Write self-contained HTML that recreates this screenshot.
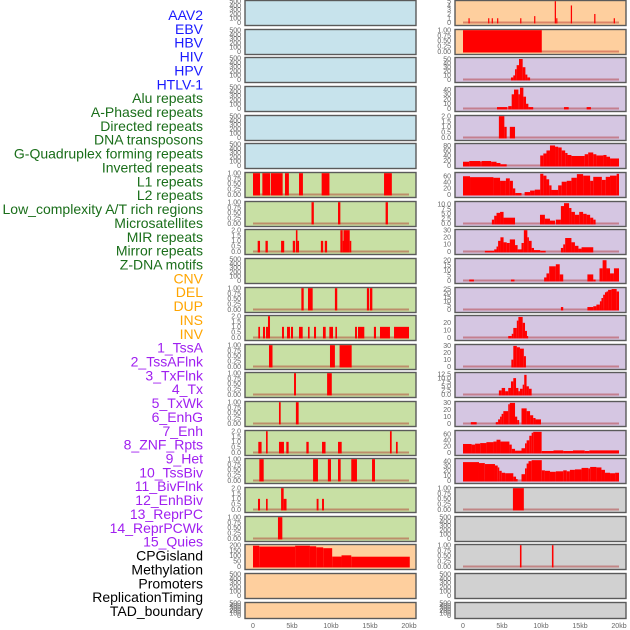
<!DOCTYPE html>
<html><head><meta charset="utf-8"><style>
html,body{margin:0;padding:0;background:#fff;}
svg{display:block;font-family:"Liberation Sans",sans-serif;}
</style></head><body>
<svg id="chart" width="630" height="630" viewBox="0 0 630 630"></svg>
<script>
const categories = ["AAV2","EBV","HBV","HIV","HPV","HTLV-1","Alu repeats","A-Phased repeats","Directed repeats","DNA transposons","G-Quadruplex forming repeats","Inverted repeats","L1 repeats","L2 repeats","Low_complexity A/T rich regions","Microsatellites","MIR repeats","Mirror repeats","Z-DNA motifs","CNV","DEL","DUP","INS","INV","1_TssA","2_TssAFlnk","3_TxFlnk","4_Tx","5_TxWk","6_EnhG","7_Enh","8_ZNF_Rpts","9_Het","10_TssBiv","11_BivFlnk","12_EnhBiv","13_ReprPC","14_ReprPCWk","15_Quies","CPGisland","Methylation","Promoters","ReplicationTiming","TAD_boundary"];
const categoryGroups = [6,13,5,15,5];
const xTickLabels = ["0","5kb","10kb","15kb","20kb"];
const xTickValues = [0,5,10,15,20];
const ticks500 = [0,100,200,300,400,500];
const ticks1 = [0,0.25,0.5,0.75,1];
const ticks2 = [0,0.5,1,1.5,2];

// segments: [startKb, endKb, value]
const segL7 = [[0,0.9,1],[1.2,2.2,1],[2.3,3.8,1],[4.1,4.6,1],[5.9,6.4,1],[8.8,9.8,1],[16.8,17.8,1]];
const segL8 = [[7.5,7.8,1],[10.9,11.2,1],[17.0,17.3,1]];
const segL9 = [[0.6,0.9,1],[1.6,1.9,1],[3.6,4.0,1],[5.1,5.4,1],[5.5,5.7,2],[5.7,5.9,1],[8.7,9.0,1],[9.2,9.5,1],[11.2,11.5,2],[11.5,11.6,1],[11.6,12.4,2],[12.4,12.6,1]];
const segL11 = [[6.2,6.5,1],[7.05,7.65,1],[10.5,10.8,1],[14.6,14.9,1],[15.0,15.3,1]];
const segL12 = [[0.68,0.9,1],[1.28,1.54,1],[1.67,1.92,1],[1.92,2.18,2],[3.72,3.97,1],[4.36,4.74,1],[4.87,5.13,1],[5.9,6.37,1],[7.05,7.26,1],[7.82,8.08,1],[8.97,9.32,1],[9.79,10.26,1],[10.56,10.77,1],[13.08,13.33,1],[13.46,14.27,1],[15.5,15.77,1],[16.28,17.56,1],[18.08,20,1]];
const segL13 = [[2.05,2.5,1],[9.87,10.5,1],[11.1,12.65,1]];
const segL14 = [[5.26,5.51,1],[9.5,10.1,1]];
const segL15 = [[3.33,3.55,1],[5.5,5.85,1]];
const segL16 = [[0.68,1.1,1],[1.67,1.88,2],[3.33,3.97,1],[4.27,4.57,1],[6.84,7.14,1],[8.85,9.3,1],[10.9,11.37,1],[17.56,17.78,2],[18.33,18.55,1]];
const segL17 = [[0.81,1.37,1],[7.7,8.33,1],[9.6,10,1],[10.9,11.24,1],[12.6,13.33,1],[15.26,15.64,1]];
const segL18 = [[0.64,0.9,1],[1.67,1.88,1],[3.6,3.93,2],[3.93,4.3,1],[8.16,8.4,1],[8.85,9.1,1]];
const segL19 = [[3.2,3.76,1]];
const segL20 = [[0,0.8,195],[0.8,5.4,187],[5.4,7.3,195],[7.3,8.1,190],[8.1,9.0,180],[9.0,10.15,172],[10.15,11.35,93],[11.35,12.6,105],[12.6,20.1,92]];

const segR1 = [[0.7,0.85,1],[3.22,3.37,1],[3.68,3.83,1],[4.37,4.52,1],[7.33,7.48,1],[9.12,9.27,1.5],[11.76,11.92,5],[11.95,12.1,1],[13.82,13.98,4],[16.82,16.98,2],[19.32,19.48,1]];
const segR2 = [[0,10.1,1]];
const segR3 = [[6.15,6.45,5],[6.45,6.67,10],[6.67,6.88,25],[6.88,7.18,35],[7.18,7.65,50],[7.65,8.0,30],[8.0,8.25,12],[8.25,8.6,5]];
const segR4 = [[4.36,5.68,3],[5.8,6.24,5],[6.24,6.54,30],[6.54,7.1,40],[7.1,7.3,30],[7.3,7.74,44],[7.74,8.08,25],[8.08,8.38,10],[8.38,9.0,3],[12.95,13.55,3],[15.85,16.4,3]];
const segR5 = [[4.6,5.3,2],[5.3,5.6,1],[6.0,6.67,1]];
const segR6 = [[0,0.8,15],[0.8,2.2,18],[2.2,2.4,16],[2.4,3.6,18],[3.6,4.3,15],[4.3,4.8,10],[4.8,5.6,5],[9.9,10.3,40],[10.3,10.7,48],[10.7,11.15,60],[11.15,11.8,80],[11.8,12.2,75],[12.2,12.65,72],[12.65,13.1,60],[13.1,13.4,50],[13.4,13.9,42],[13.9,15.6,38],[15.6,16.05,45],[16.05,16.7,52],[16.7,17.1,45],[17.1,18,40],[18,18.4,42],[18.4,18.85,35],[18.85,20,28]];
const segR7 = [[0,0.9,60],[0.9,3.9,57],[3.9,4.75,55],[4.75,5.5,45],[5.5,6.0,53],[6.0,6.4,45],[6.4,6.7,20],[6.7,7.5,5],[7.9,8.6,8],[8.6,9.2,13],[9.2,9.9,16],[9.9,10.3,68],[10.3,10.7,62],[10.7,11.05,50],[11.05,11.35,30],[11.35,12.2,15],[12.2,12.65,30],[12.65,13.3,42],[13.3,13.9,45],[13.9,14.6,55],[14.6,15.4,67],[15.4,16.3,62],[16.3,16.7,45],[16.7,17.8,58],[17.8,18.3,48],[18.3,18.85,58],[18.85,19.7,62],[19.7,20,68]];
const segR8 = [[3.7,4.0,2],[4.0,4.3,4],[4.3,4.75,5.5],[4.75,5.2,6],[5.2,6.67,3],[9.87,10.5,4.5],[10.5,11.15,2.5],[11.15,11.8,1.5],[11.9,12.55,2],[12.55,12.95,9],[12.95,13.6,10.5],[13.6,13.9,8],[13.9,14.35,6],[14.35,14.9,4.5],[14.9,15.4,6],[15.4,15.85,5],[15.85,16.3,4.5],[16.3,16.7,3],[16.7,17.0,2]];
const segR9 = [[2.8,4.0,1],[4.0,4.3,3],[4.3,4.5,7],[4.5,4.8,15],[4.8,5.2,20],[5.2,5.6,13],[5.6,6.0,12],[6.0,6.67,17],[6.67,7.0,9],[7.0,7.5,3],[7.5,7.8,12],[7.8,8.25,30],[8.25,8.45,20],[8.45,8.8,15],[8.8,9.1,5],[9.1,9.9,2],[9.9,10.6,1],[12.55,12.85,5],[12.85,13.1,10],[13.1,13.9,19],[13.9,14.35,13],[14.35,14.8,8],[14.8,15.2,4],[15.2,16.7,6]];
const segR10 = [[0.8,1.4,1],[6.15,6.6,1],[10.4,10.7,3],[10.7,11.05,7],[11.05,11.9,14],[11.9,12.4,16],[12.4,12.85,6],[15.95,16.7,6],[16.7,17.0,1],[17.5,17.9,12],[17.9,18.4,20],[18.4,18.85,12],[18.85,19.35,7],[19.35,20,12]];
const segR11 = [[12.55,12.85,3],[15.95,16.7,3],[16.7,17.1,4],[17.1,17.55,6],[17.55,17.75,10],[17.75,17.97,14],[17.97,18.2,18],[18.2,18.4,21],[18.4,18.6,22],[18.6,19.05,24],[19.05,19.7,25],[19.7,20,22]];
const segR12 = [[5.8,6.25,2],[6.25,6.45,5],[6.45,6.9,13],[6.9,7.1,23],[7.1,7.65,28],[7.65,7.95,20],[7.95,8.2,9],[8.2,8.3,2]];
const segR13 = [[6.2,6.45,10],[6.45,6.9,30],[6.9,7.3,28],[7.3,7.8,26],[7.8,8.07,15]];
const segR14 = [[4.6,4.96,2.5],[4.96,5.4,4],[5.4,5.8,2],[5.8,6.15,4],[6.15,6.45,8],[6.45,6.8,10],[6.8,7.1,4],[7.1,7.3,2],[7.3,7.65,3.5],[7.65,7.85,6],[7.85,8.15,12],[8.15,8.45,5],[8.45,8.8,3.5]];
const segR15 = [[1.0,1.75,2],[4.2,4.5,2],[4.5,4.75,6],[4.75,4.95,10],[4.95,5.17,14],[5.17,5.8,18],[5.8,6.0,28],[6.0,6.67,30],[6.67,6.95,10],[6.95,7.2,5],[7.5,8.16,22],[8.16,8.6,18],[8.6,9.0,12],[9.0,9.3,8],[9.3,10.0,6]];
const segR16 = [[0,1.1,28],[1.1,1.55,26],[1.55,2.2,29],[2.2,3.0,31],[3.0,3.9,34],[3.9,4.3,36],[4.3,4.8,42],[4.8,5.95,36],[5.95,6.25,26],[6.25,6.67,12],[6.67,7.5,6],[7.5,7.95,14],[7.95,8.16,30],[8.16,8.5,40],[8.5,8.8,55],[8.8,9.0,65],[9.0,10.08,68],[10.1,11.6,5],[11.6,12.85,7],[12.85,14.1,5],[14.1,15.6,7],[15.6,16.2,5],[16.2,20,7]];
const segR17 = [[0,2.05,38],[2.05,2.8,36],[2.8,4.1,34],[4.1,4.45,31],[4.45,4.65,27],[4.65,4.96,20],[4.96,5.4,16],[5.4,6.45,15],[6.45,6.8,8],[6.8,7.0,3],[7.5,7.95,13],[7.95,8.16,25],[8.16,8.4,35],[8.4,8.8,40],[8.8,10.1,42],[10.1,10.5,21],[10.5,11.15,20],[11.15,11.9,18],[11.9,12.85,19],[12.85,13.3,21],[13.3,13.7,19],[13.7,14.35,22],[14.35,15.2,23],[15.2,16.05,26],[16.05,16.3,25],[16.3,17.1,28],[17.1,17.75,27],[17.75,18.2,22],[18.2,18.85,16],[18.85,19.5,15],[19.5,20,16]];
const segR18 = [[6.4,7.8,1]];
const segR20 = [[7.3,7.5,1],[11.4,11.6,1]];

const COL = {blue:"#c7e3ec",green:"#c8e0a4",peach:"#fecf9e",purple:"#d5c6e2",gray:"#d1d1d1"};
const svg = document.getElementById('chart');
const NS = "http://www.w3.org/2000/svg";
function mk(tag, attrs){const e=document.createElementNS(NS,tag);for(const k in attrs)e.setAttribute(k,attrs[k]);svg.appendChild(e);return e;}

const labelColors = ["#1a1aff","#1a6e1a","#ffa500","#a020f0","#000000"];
let gi=0, gc=0;
categories.forEach((c,i)=>{
  while(gc>=categoryGroups[gi]){gi++;gc=0;}
  gc++;
  const t=mk('text',{x:203,y:15+i*13.86+5,'text-anchor':'end','font-size':'14',fill:labelColors[gi]});
  t.textContent=c;
  
  
});

function fmt(v,ticks){const step=ticks[1]-ticks[0];if(step<0.5&&step!==0.5)return v.toFixed(2);if(step===0.5||step===2.5)return v.toFixed(1);return String(v);}

function panel(col,row,bg,seg,ticks,ymax){
  const X0 = col===0?245:455;
  const W = 171;
  const T = Math.round(row*28.65);
  const H = row===21?16:25;
  const kx = k=>X0+8+k*7.8;
  const y0 = T+H-2.5, yt=T+1.2;
  const ys = v=>y0-(v/ymax)*(y0-yt);
  const bgR=mk('rect',{x:X0,y:T+0.5,width:W,height:H,fill:bg,stroke:'#5a5a5a','stroke-width':1.4});
  
  
  ticks.forEach(tv=>{
    const t=mk('text',{x:X0-4,y:ys(tv)+2.3,'text-anchor':'end','font-size':'7',fill:'#666'});
    t.textContent=fmt(tv,ticks);
    
    
  });
  if(seg){
    const bl=mk('rect',{x:kx(0),y:y0-1,width:kx(20)-kx(0),height:2,fill:'rgba(170,20,20,0.4)'});
    
    
    seg.forEach(s=>{
      const v=Math.min(s[2],ymax);
      const r=mk('rect',{x:kx(s[0]),y:ys(v),width:Math.max(1.2,kx(s[1])-kx(s[0])),height:y0-ys(v)+1,fill:'#ff0000'});
      
      
    });
  }
  if(row===21){
    xTickValues.forEach((k,i)=>{
      const t=mk('text',{x:kx(k),y:628,'text-anchor':'middle','font-size':'7',fill:'#666'});
      t.textContent=xTickLabels[i];
      
      
    });
  }
}

const leftPanels = [
 [COL.blue,null,ticks500,500],[COL.blue,null,ticks500,500],[COL.blue,null,ticks500,500],[COL.blue,null,ticks500,500],[COL.blue,null,ticks500,500],[COL.blue,null,ticks500,500],
 [COL.green,segL7,ticks1,1],[COL.green,segL8,ticks1,1],[COL.green,segL9,ticks2,2],[COL.green,null,ticks500,500],[COL.green,segL11,ticks1,1],[COL.green,segL12,ticks2,2],[COL.green,segL13,ticks1,1],[COL.green,segL14,ticks1,1],[COL.green,segL15,ticks1,1],[COL.green,segL16,ticks2,2],[COL.green,segL17,ticks1,1],[COL.green,segL18,ticks2,2],[COL.green,segL19,ticks1,1],
 [COL.peach,segL20,[0,50,100,150,200],200],[COL.peach,null,ticks500,500],[COL.peach,null,ticks500,500]
];
const rightPanels = [
 [COL.peach,segR1,[0,1,2,3,4,5],5],[COL.peach,segR2,ticks1,1],
 [COL.purple,segR3,[0,10,20,30,40,50],52],[COL.purple,segR4,[0,10,20,30,40],45],[COL.purple,segR5,ticks2,2],
 [COL.purple,segR6,[0,20,40,60,80],85],[COL.purple,segR7,[0,20,40,60],70],[COL.purple,segR8,[0,2.5,5,7.5,10],11],
 [COL.purple,segR9,[0,10,20,30],30],[COL.purple,segR10,[0,5,10,15,20],21],[COL.purple,segR11,[0,5,10,15,20,25],26],
 [COL.purple,segR12,[0,10,20],29],[COL.purple,segR13,[0,10,20,30],31],[COL.purple,segR14,[0,2.5,5,7.5,10,12.5],13],
 [COL.purple,segR15,[0,10,20,30],31],[COL.purple,segR16,[0,20,40,60],70],[COL.purple,segR17,[0,10,20,30,40],44],
 [COL.gray,segR18,ticks1,1],[COL.gray,null,ticks500,500],[COL.gray,segR20,ticks1,1],[COL.gray,null,ticks500,500],[COL.gray,null,ticks500,500]
];
leftPanels.forEach((p,i)=>panel(0,i,p[0],p[1],p[2],p[3]));
rightPanels.forEach((p,i)=>panel(1,i,p[0],p[1],p[2],p[3]));
</script>
</body></html>
